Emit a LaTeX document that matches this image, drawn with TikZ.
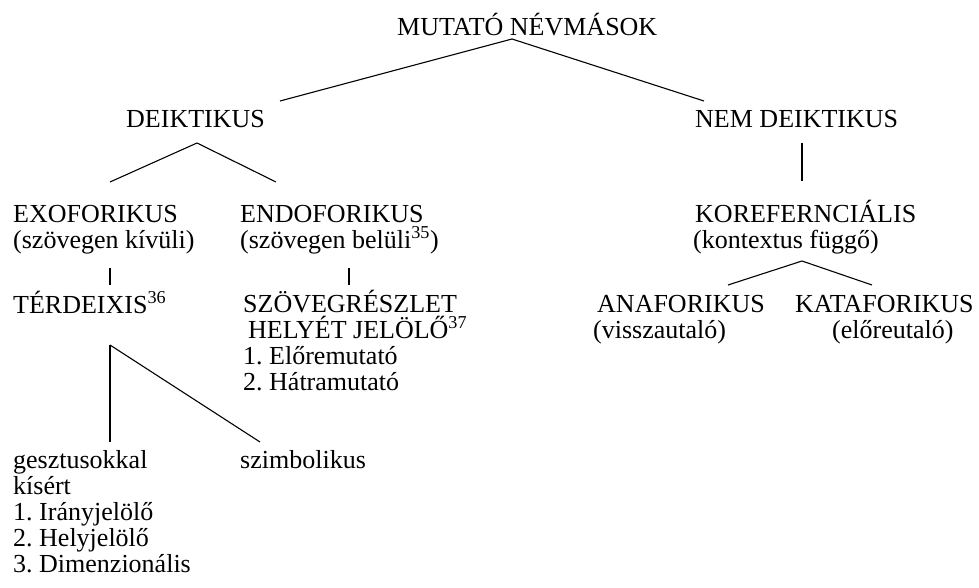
\documentclass[tikz,border=0pt]{standalone}
\usepackage{fontspec}
\setmainfont{Liberation Serif}
\usetikzlibrary{positioning}
\frenchspacing

\begin{document}
\begin{tikzpicture}[x=1pt,y=-1pt,
  lbl/.style={inner sep=0pt,anchor=base west,align=left,font=\fontsize{26}{26}\selectfont},
  edge/.style={line width=1.1pt}]
  \useasboundingbox (0,0) rectangle (979,588);
  % text (multi-line nodes sit on their last line)
  \node[lbl] (mutato) at (397,36) {MUTATÓ NÉVMÁSOK};
  \node[lbl] (deik) at (126,128) {DEIKTIKUS};
  \node[lbl] (nem) at (695,128) {NEM DEIKTIKUS};
  \node[lbl] (exo) at (13,248) {EXOFORIKUS\\(szövegen kívüli)};
  \node[lbl] (endo) at (240,248) {ENDOFORIKUS\\(szövegen belüli\textsuperscript{35})};
  \node[lbl] (koref) at (695,248) {KOREFERNCIÁLIS\\\hspace*{-2pt}(kontextus függő)};
  \node[lbl] (terd) at (13,313) {TÉRDEIXIS\textsuperscript{36}};
  \node[lbl] (szoveg) at (243,390) {SZÖVEGRÉSZLET\\\hspace*{5pt}HELYÉT JELÖLŐ\textsuperscript{37}\\1. Előremutató\\2. Hátramutató};
  \node[lbl] (ana) at (597,338) {ANAFORIKUS\\\hspace*{-4pt}(visszautaló)};
  \node[lbl] (kata) at (795,338) {KATAFORIKUS\\\hspace*{37pt}(előreutaló)};
  \node[lbl] (geszt) at (13,572) {gesztusokkal\\kísért\\1. Irányjelölő\\2. Helyjelölő\\3. Dimenzionális};
  \node[lbl] (szimb) at (240,468) {szimbolikus};
  % line ends
  \coordinate (mutato-v) at (512,39);
  \coordinate (deik-in) at (280,101);
  \coordinate (nem-in) at (704,101);
  \coordinate (deik-v) at (197,143);
  \coordinate (exo-in) at (110,182);
  \coordinate (endo-in) at (276,182);
  \coordinate (nem-out) at (802,143);
  \coordinate (koref-in) at (802,181);
  \coordinate (exo-out) at (110,268);
  \coordinate (terd-in) at (110,285);
  \coordinate (endo-out) at (349,268);
  \coordinate (szoveg-in) at (349,285);
  \coordinate (koref-v) at (802,261);
  \coordinate (ana-in) at (728,285);
  \coordinate (kata-in) at (872,285);
  \coordinate (terd-v) at (110,345);
  \coordinate (geszt-in) at (110,442);
  \coordinate (szimb-in) at (260,442);
  \foreach \a/\b in {mutato-v/deik-in,mutato-v/nem-in,deik-v/exo-in,deik-v/endo-in,nem-out/koref-in,
      exo-out/terd-in,endo-out/szoveg-in,koref-v/ana-in,koref-v/kata-in,terd-v/geszt-in,terd-v/szimb-in}
    \draw[edge] (\a) -- (\b);
\end{tikzpicture}
\end{document}
